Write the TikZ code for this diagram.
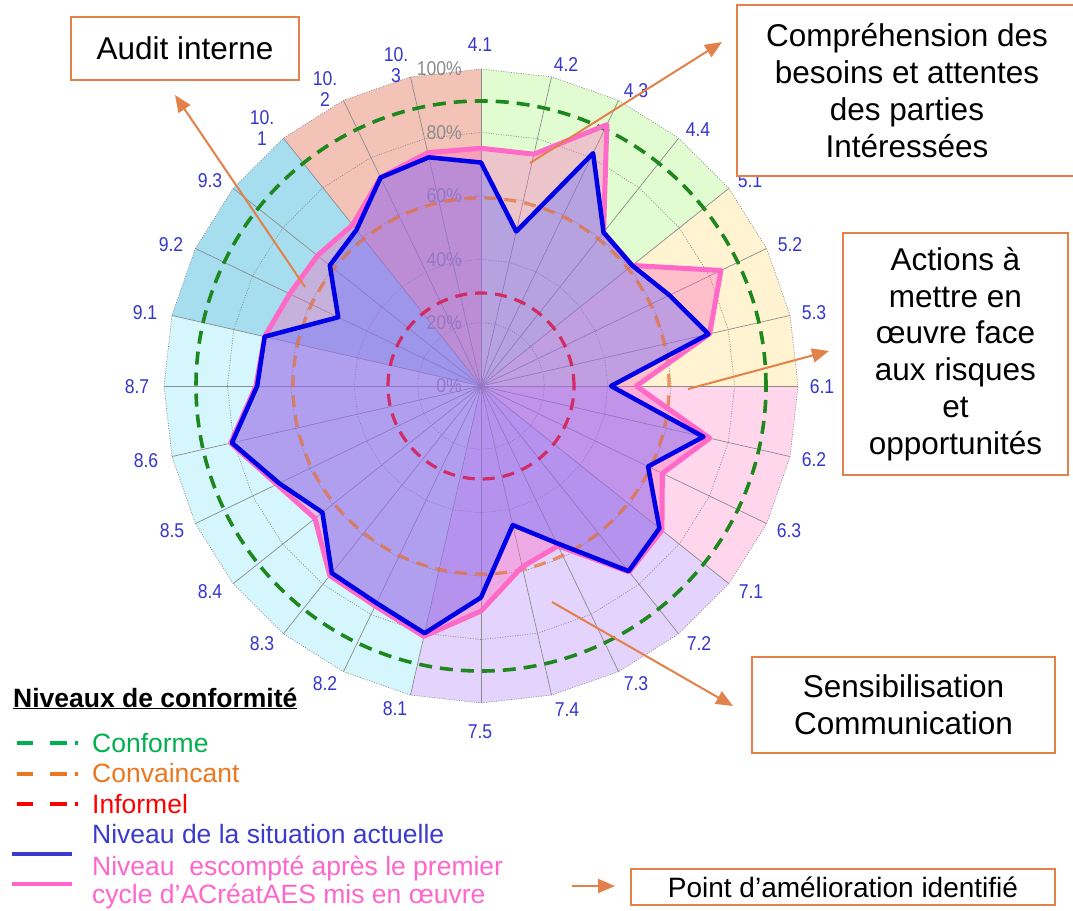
\documentclass[tikz,border=0pt]{standalone}
\usepackage{fontspec}
\setmainfont{Liberation Sans}
\newfontfamily\narrowsans[FakeStretch=0.88]{Liberation Sans}
\usetikzlibrary{arrows.meta}

% clause sectors
\definecolor{secFour}{RGB}{226,252,210}
\definecolor{secFive}{RGB}{255,243,210}
\definecolor{secSix}{RGB}{255,214,236}
\definecolor{secSeven}{RGB}{228,211,252}
\definecolor{secEight}{RGB}{212,246,252}
\definecolor{secNine}{RGB}{166,222,240}
\definecolor{secTen}{RGB}{243,195,184}
% chart
\definecolor{gridgray}{RGB}{140,140,140}
\definecolor{pctgray}{RGB}{140,140,140}
\definecolor{axisblue}{RGB}{55,55,205}
\definecolor{curblue}{RGB}{0,0,230}
\definecolor{curfill}{RGB}{100,110,255}
\definecolor{tgtpink}{RGB}{255,105,200}
\definecolor{tgtfill}{RGB}{255,100,190}
\definecolor{dashgreen}{RGB}{30,135,30}
\definecolor{dashorange}{RGB}{232,112,48}
\definecolor{dashred}{RGB}{215,25,80}
\definecolor{boxorange}{RGB}{226,129,74}
% legend
\definecolor{lgreen}{RGB}{0,176,80}
\definecolor{lorange}{RGB}{235,120,30}
\definecolor{lred}{RGB}{255,0,0}
\definecolor{lblue}{RGB}{59,59,207}
\definecolor{lpink}{RGB}{255,102,204}

\begin{document}
\begin{tikzpicture}[x=1pt,y=-1pt,
  spoke/.style={draw=gridgray,line width=0.7pt},
  ring/.style={draw=gridgray,line width=0.7pt,dash pattern=on 1pt off 1.5pt},
  axlabel/.style={text=axisblue,font=\narrowsans\fontsize{20}{21}\selectfont,align=center,inner sep=0pt},
  pct/.style={text=pctgray,font=\narrowsans\fontsize{20}{21}\selectfont,inner sep=0pt,anchor=east},
  level/.style={line width=3.2pt,dash pattern=on 12pt off 8pt},
  box/.style={draw=boxorange,line width=2.5pt,fill=white,align=center,inner sep=0pt,font=\fontsize{31.5}{36.8}\selectfont},
  callout/.style={draw=boxorange,line width=2pt,-{Triangle[length=17pt,width=14pt]}},
  legtext/.style={anchor=base west,inner sep=0pt,font=\fontsize{26.5}{29}\selectfont},
  legdash/.style={line width=4pt,dash pattern=on 16pt off 17pt on 17pt off 8pt on 2.5pt off 200pt},
]
\useasboundingbox (0,0) rectangle (1073,910);
\clip (0,0) rectangle (1073,910);
\fill[white] (0,0) rectangle (1073,910);

\begin{scope}[shift={(481,386)},yscale=-1]
  % clause sectors
  \foreach \s/\e/\c in {0/4/secFour,4/7/secFive,7/10/secSix,10/15/secSeven,15/22/secEight,22/25/secNine,25/28/secTen}
    \fill[\c] (0,0) \foreach \k in {\s,...,\e} { -- ({90-\k*360/28}:317) } -- cycle;
  % grid
  \foreach \f in {63.4,126.8,190.2,253.6,317}
    \draw[ring] (90:\f) \foreach \k in {1,...,27} { -- ({90-\k*360/28}:\f) } -- cycle;
  \foreach \k in {0,...,27} \draw[spoke] (0,0) -- ({90-\k*360/28}:317);
  % scale
  \foreach \k/\t in {0/0\%,1/20\%,2/40\%,3/60\%,4/80\%,5/100\%}
    \node[pct] (pct\k) at (-19,{\k*63.4}) {\t};
  % data points
  \foreach \v [count=\k from 0] in {70.5,50,81.5,62,61,66,73.6,41,72,58.5,72,74.7,55,45,66.7,80,76,75.5,64,70.7,80.6,70.6,70,50,61,63,73,74}
    \coordinate (c\k) at ({90-\k*360/28}:{\v*3.17});
  \foreach \v [count=\k from 0] in {75,75,91.5,62,61,84,74,49,74,63.5,73,75,56,58.5,71,81,77,76.5,67,71.5,81,71,70,67,66,65,73,75.5}
    \coordinate (t\k) at ({90-\k*360/28}:{\v*3.17});
  % areas
  \fill[tgtfill,opacity=.36] (t0) \foreach \k in {1,...,27} { -- (t\k) } -- cycle;
  \fill[curfill,opacity=.4] (c0) \foreach \k in {1,...,27} { -- (c\k) } -- cycle;
  % conformity levels
  \draw[level,draw=dashorange,opacity=.7] (0,0) circle[radius=188];
  \draw[level,draw=dashred,opacity=.85] (0,0) circle[radius=93];
  \draw[level,draw=dashgreen,line width=3.6pt,dash pattern=on 13pt off 8pt] (0,0) circle[radius=285];
  % outlines
  \draw[tgtpink,line width=5pt,line join=round] (t0) \foreach \k in {1,...,27} { -- (t\k) } -- cycle;
  \draw[curblue,line width=4.5pt,line join=round] (c0) \foreach \k in {1,...,27} { -- (c\k) } -- cycle;
\end{scope}

% clause labels
\foreach \t/\x/\y [count=\n] in {4.1/480/45,4.2/566/65,4.3/636/91,4.4/698/130,5.1/750/181,5.2/790/245,5.3/814/313,6.1/822/387,6.2/814/460,6.3/789/531,7.1/751/592,7.2/699/644,7.3/636/684,7.4/567/710,7.5/480/732,8.1/395/709,8.2/325/684,8.3/262/644,8.4/210/592,8.5/172/531,8.6/146/461,8.7/137/387,9.1/145/313,9.2/171/245,9.3/210/181}
  \node[axlabel] (lbl\n) at (\x,\y) {\t};
\node[axlabel] (lblA) at (262,128) {10.\\1};
\node[axlabel] (lblB) at (325,89) {10.\\2};
\node[axlabel] (lblC) at (396,65) {10.\\3};

% improvement points
\node[box,minimum width=228pt,minimum height=63pt] (audit) at (185,48.5) {Audit interne};
\node[box,minimum width=340pt,minimum height=171pt] (besoins) at (907,90.5) {Compréhension des\\besoins et attentes\\des parties\\Intéressées};
\node[box,minimum width=225pt,minimum height=242pt] (risques) at (955.5,354) {Actions à\\mettre en\\œuvre face\\aux risques\\et\\opportunités};
\node[box,minimum width=303pt,minimum height=96pt] (sensib) at (903.5,705) {Sensibilisation\\Communication};
\node[box,minimum width=424pt,minimum height=36pt,font=\fontsize{28}{32}\selectfont] (point) at (843,887) {Point d’amélioration identifié};

\coordinate (auditFrom) at (305,287);
\coordinate (auditTo) at (175,95);
\coordinate (besoinsFrom) at (530,163);
\coordinate (besoinsTo) at (722,42);
\coordinate (risquesFrom) at (688,389);
\coordinate (risquesTo) at (829,351);
\coordinate (sensibFrom) at (552,602);
\coordinate (sensibTo) at (733,706);
\coordinate (pointFrom) at (572,886);
\coordinate (pointTo) at (615,886);
\draw[callout] (auditFrom) -- (auditTo);
\draw[callout] (besoinsFrom) -- (besoinsTo);
\draw[callout] (risquesFrom) -- (risquesTo);
\draw[callout] (sensibFrom) -- (sensibTo);
\draw[callout] (pointFrom) -- (pointTo);

% legend
\node[legtext,font=\bfseries\fontsize{26.5}{29}\selectfont] (lgTitle) at (13,707) {\underline{Niveaux de conformité}};
\draw[legdash,draw=lgreen] (17,743) -- (85,743);
\draw[legdash,draw=lorange] (17,774) -- (85,774);
\draw[legdash,draw=lred] (17,804) -- (85,804);
\draw[lblue,line width=4pt] (12,854) -- (72,854);
\draw[lpink,line width=4pt] (12,884) -- (72,884);
\node[legtext,text=lgreen] (lgConf) at (92,752) {Conforme};
\node[legtext,text=lorange] (lgConv) at (92,782) {Convaincant};
\node[legtext,text=lred] (lgInf) at (92,813) {Informel};
\node[legtext,text=lblue] (lgCur) at (92,843) {Niveau de la situation actuelle};
\node[legtext,text=lpink] (lgTgtA) at (92,875) {Niveau~ escompté après le premier};
\node[legtext,text=lpink] (lgTgtB) at (92,903) {cycle d’ACréatAES mis en œuvre};
\end{tikzpicture}
\end{document}
